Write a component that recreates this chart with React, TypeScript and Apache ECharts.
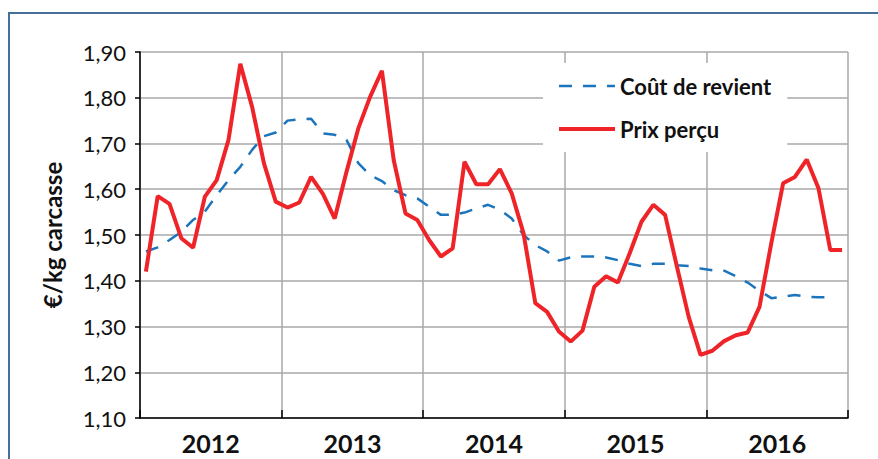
import React, { useEffect, useRef } from "react";
import * as echarts from "echarts";

const years: string[] = ["2012", "2013", "2014", "2015", "2016"];
const monthNames: string[] = ["01", "02", "03", "04", "05", "06", "07", "08", "09", "10", "11", "12"];
const months: string[] = years.flatMap((y) => monthNames.map((m) => `${y}-${m}`));

const coutDeRevient: number[] = [
  1.464, 1.473, 1.489, 1.507, 1.533, 1.551, 1.587, 1.62, 1.649, 1.686, 1.716, 1.724,
  1.75, 1.753, 1.754, 1.722, 1.719, 1.708, 1.657, 1.631, 1.618, 1.598, 1.587, 1.58,
  1.562, 1.544, 1.544, 1.549, 1.558, 1.566, 1.555, 1.536, 1.5, 1.478, 1.464, 1.444,
  1.451, 1.453, 1.453, 1.451, 1.445, 1.437, 1.432, 1.437, 1.437, 1.434, 1.432, 1.427,
  1.423, 1.422, 1.41, 1.396, 1.378, 1.362, 1.365, 1.369, 1.365, 1.364, 1.364,
];

const prixPercu: number[] = [
  1.42, 1.585, 1.568, 1.493, 1.472, 1.584, 1.62, 1.708, 1.874, 1.78, 1.657, 1.573,
  1.56, 1.571, 1.627, 1.59, 1.536, 1.638, 1.733, 1.802, 1.859, 1.664, 1.547, 1.533,
  1.489, 1.453, 1.471, 1.66, 1.611, 1.611, 1.644, 1.591, 1.504, 1.351, 1.332, 1.289,
  1.267, 1.291, 1.387, 1.41, 1.396, 1.46, 1.529, 1.566, 1.544, 1.431, 1.321, 1.238,
  1.247, 1.268, 1.281, 1.287, 1.343, 1.482, 1.613, 1.627, 1.665, 1.602, 1.467, 1.467,
];

const yMin = 1.1;
const yMax = 1.9;
const yStep = 0.1;

const FONT = "Lato, 'Open Sans', sans-serif";
const BLUE = "#1c75bc";
const RED = "#ee2428";

export default function App() {
  const ref = useRef<HTMLDivElement>(null);

  useEffect(() => {
    if (!ref.current) return;
    const chart = echarts.init(ref.current, null, { renderer: "svg" });
    chart.setOption({
      animation: false,
      backgroundColor: "#ffffff",
      graphic: [
        {
          type: "rect",
          shape: { x: 9, y: 13, width: 1000, height: 1000 },
          style: { fill: "none", stroke: "#45709a", lineWidth: 2 },
          silent: true,
        },
      ],
      grid: { left: 140, right: 30, top: 52, bottom: 41, containLabel: false },
      legend: {
        orient: "vertical",
        left: 543,
        top: 63,
        backgroundColor: "#ffffff",
        padding: [12, 16, 12, 14],
        itemWidth: 56,
        itemHeight: 20,
        itemGap: 21,
        data: [
          { name: "Coût de revient", lineStyle: { color: BLUE, width: 2.5, type: [13, 11] } },
          { name: "Prix perçu", lineStyle: { color: RED, width: 4, type: "solid" } },
        ],
        itemStyle: { color: "rgba(0,0,0,0)", borderWidth: 0, opacity: 0 },
        textStyle: {
          fontFamily: FONT,
          fontSize: 22,
          fontWeight: "bold",
          color: "#111111",
          lineHeight: 20,
        },
      },
      xAxis: [
        {
          type: "category",
          data: months,
          boundaryGap: true,
          show: false,
        },
        {
          type: "category",
          data: years,
          boundaryGap: true,
          position: "bottom",
          axisLine: { show: true, lineStyle: { color: "#000000", width: 1.5 } },
          axisTick: { show: true, inside: true, length: 8, lineStyle: { color: "#000000", width: 1.5 } },
          axisLabel: {
            fontFamily: FONT,
            fontSize: 25,
            fontWeight: "bold",
            color: "#111111",
            margin: 12,
          },
          splitLine: { show: true, lineStyle: { color: "#a8a8a8", width: 1.5 } },
        },
      ],
      yAxis: {
        type: "value",
        min: yMin,
        max: yMax,
        interval: yStep,
        name: "€/kg carcasse",
        nameLocation: "middle",
        nameGap: 76,
        nameRotate: 90,
        nameTextStyle: {
          fontFamily: FONT,
          fontSize: 24,
          fontWeight: "bold",
          color: "#111111",
        },
        axisLine: { show: true, lineStyle: { color: "#000000", width: 1.5 } },
        axisTick: { show: true, inside: false, length: 5, lineStyle: { color: "#000000", width: 1.5 } },
        axisLabel: {
          fontFamily: FONT,
          fontSize: 22,
          color: "#111111",
          margin: 14,
          formatter: (v: number) => v.toFixed(2).replace(".", ","),
        },
        splitLine: { show: true, lineStyle: { color: "#a8a8a8", width: 1.5 } },
      },
      series: [
        {
          name: "Coût de revient",
          type: "line",
          xAxisIndex: 0,
          data: coutDeRevient,
          symbol: "none",
          lineStyle: { color: BLUE, width: 2.5, type: [13, 11] },
          itemStyle: { color: BLUE },
          z: 3,
        },
        {
          name: "Prix perçu",
          type: "line",
          xAxisIndex: 0,
          data: prixPercu,
          symbol: "none",
          lineStyle: { color: RED, width: 4 },
          itemStyle: { color: RED },
          z: 4,
        },
      ],
    });
    return () => chart.dispose();
  }, []);

  return (
    <div
      ref={ref}
      style={{ position: "fixed", left: 0, top: 0, width: 878, height: 459 }}
    />
  );
}
